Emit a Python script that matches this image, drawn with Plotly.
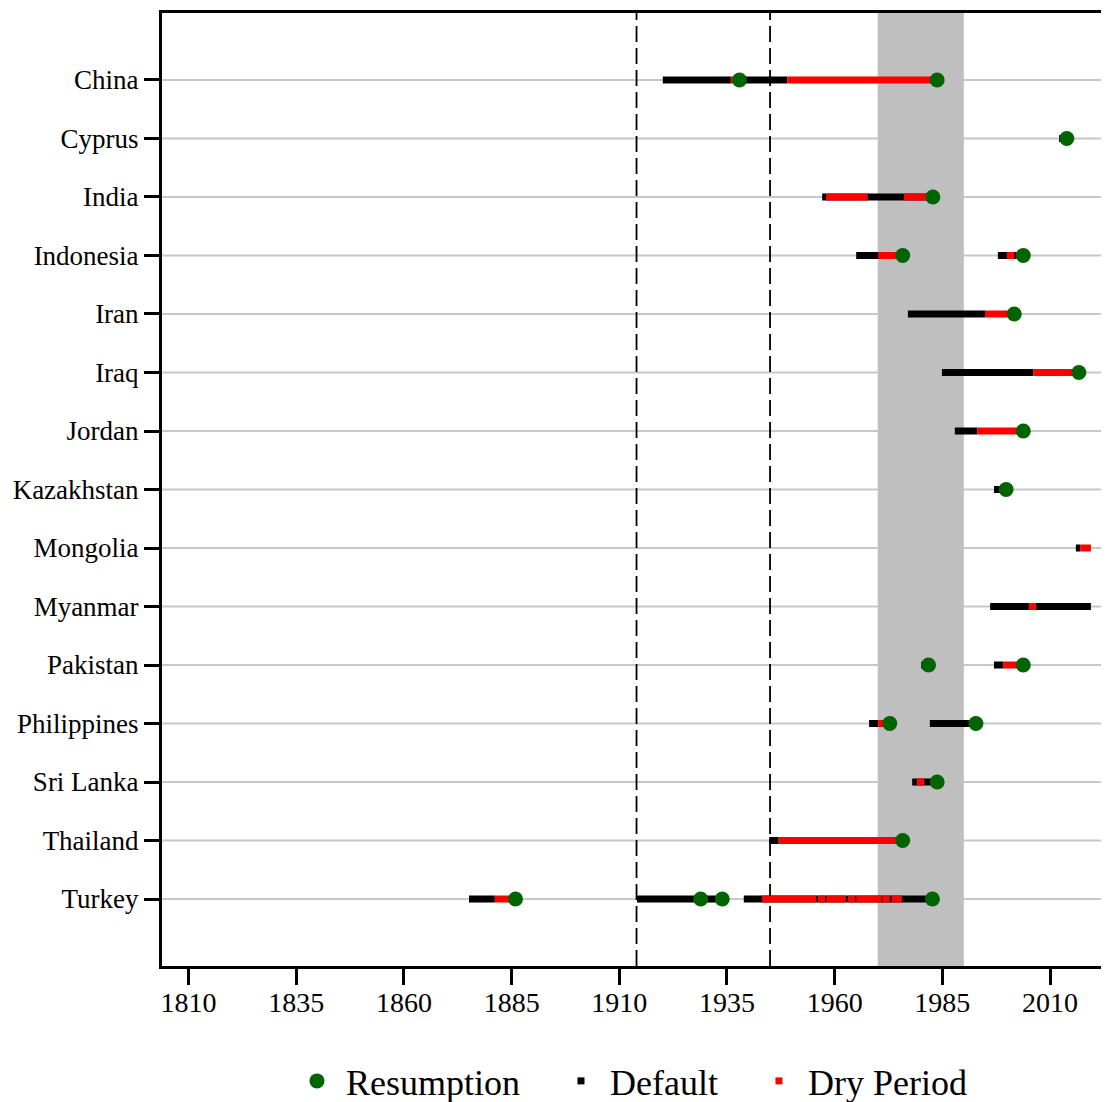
import plotly.graph_objects as go

countries = ["China", "Cyprus", "India", "Indonesia", "Iran", "Iraq", "Jordan",
             "Kazakhstan", "Mongolia", "Myanmar", "Pakistan", "Philippines",
             "Sri Lanka", "Thailand", "Turkey"]

default_country = ["China", "China", "Cyprus", "India", "Indonesia", "Indonesia",
                   "Iran", "Iraq", "Jordan", "Kazakhstan", "Mongolia", "Myanmar",
                   "Pakistan", "Pakistan", "Philippines", "Philippines", "Sri Lanka",
                   "Thailand", "Turkey", "Turkey", "Turkey", "Turkey"]
default_start = [1920.1, 1938.0, 2012.1, 1957.1, 1965.0, 1997.9,
                 1977.0, 1984.9, 1987.9, 1997.0, 2016.0, 1996.1,
                 1980.1, 1997.0, 1968.0, 1982.1, 1978.0,
                 1944.8, 1875.1, 1914.1, 1930.1, 1938.9]
default_end = [1935.9, 1949.0, 2013.7, 1982.5, 1975.6, 2003.7,
               1994.9, 2006.1, 1993.1, 1999.6, 2017.0, 2019.5,
               1981.6, 1999.1, 1970.1, 1992.6, 1983.6,
               1947.0, 1881.1, 1928.7, 1933.5, 1982.5]

dry_country = ["China", "China", "India", "India", "Indonesia", "Indonesia", "Indonesia",
               "Iran", "Iraq", "Jordan", "Mongolia", "Myanmar", "Pakistan",
               "Philippines", "Sri Lanka", "Thailand", "Turkey", "Turkey", "Turkey",
               "Turkey", "Turkey", "Turkey", "Turkey", "Turkey"]
dry_start = [1935.9, 1949.0, 1958.0, 1976.1, 1970.1, 2000.0, 2002.1,
             1994.9, 2006.1, 1993.1, 2017.0, 2005.1, 1999.1,
             1970.1, 1979.1, 1947.0, 1881.1, 1943.1, 1956.1,
             1958.1, 1963.1, 1965.0, 1971.1, 1973.2]
dry_end = [1937.6, 1983.7, 1967.7, 1982.5, 1974.8, 2001.7, 2003.7,
           2001.5, 2016.7, 2003.7, 2019.5, 2006.8, 2003.7,
           1972.6, 1980.8, 1975.5, 1885.6, 1955.7, 1957.8,
           1962.6, 1964.7, 1970.9, 1972.8, 1975.6]

resumption_country = ["China", "China", "Cyprus", "India", "Indonesia", "Indonesia",
                      "Iran", "Iraq", "Jordan", "Kazakhstan", "Pakistan", "Pakistan",
                      "Philippines", "Philippines", "Sri Lanka", "Thailand",
                      "Turkey", "Turkey", "Turkey", "Turkey"]
resumption_year = [1937.9, 1983.8, 2013.9, 1982.8, 1975.8, 2003.8,
                   2001.7, 2016.7, 2003.8, 1999.8, 1981.8, 2003.8,
                   1972.8, 1992.8, 1983.8, 1975.8,
                   1885.9, 1928.9, 1933.9, 1982.7]

event_years = [1914, 1945]
shaded_period = [1970, 1990]
x_ticks = [1810, 1835, 1860, 1885, 1910, 1935, 1960, 1985, 2010]

FONT = "Liberation Serif"
GREEN = "#006400"
RED = "#ff0000"
BLACK = "#000000"
BAR_W = 0.12
NB = "\u00a0"

fig = go.Figure()

# Resumption dots (drawn beneath the period bars)
fig.add_trace(go.Scatter(
    x=resumption_year, y=resumption_country, mode="markers",
    marker=dict(symbol="circle", size=15, color=GREEN),
    showlegend=False, hoverinfo="skip"))

fig.add_trace(go.Bar(
    orientation="h", y=default_country, base=default_start,
    x=[e - s for s, e in zip(default_start, default_end)],
    width=BAR_W, marker=dict(color=BLACK, line=dict(width=0)),
    showlegend=False))

fig.add_trace(go.Bar(
    orientation="h", y=dry_country, base=dry_start,
    x=[e - s for s, e in zip(dry_start, dry_end)],
    width=BAR_W, marker=dict(color=RED, line=dict(width=0)),
    showlegend=False))

# Legend entries
fig.add_trace(go.Scatter(x=[None], y=[None], mode="markers",
                         name=NB + "Resumption" + NB * 4,
                         marker=dict(symbol="circle", size=15, color=GREEN)))
fig.add_trace(go.Scatter(x=[None], y=[None], mode="markers",
                         name=NB + "Default" + NB * 4,
                         marker=dict(symbol="square", size=7, color=BLACK)))
fig.add_trace(go.Scatter(x=[None], y=[None], mode="markers",
                         name=NB + "Dry Period",
                         marker=dict(symbol="square", size=7, color=RED)))

# Horizontal grid lines at each country (below the shaded band)
for c in countries:
    fig.add_shape(type="line", xref="paper", x0=0, x1=1, yref="y", y0=c, y1=c,
                  line=dict(color="#c8c8c8", width=2), layer="below")

fig.add_shape(type="rect", xref="x", x0=shaded_period[0], x1=shaded_period[1],
              yref="paper", y0=0, y1=1, fillcolor="#bfbfbf", line_width=0,
              layer="below")
for yr in event_years:
    fig.add_shape(type="line", xref="x", x0=yr, x1=yr, yref="paper", y0=0, y1=1,
                  line=dict(color=BLACK, width=1.8, dash="16px,6px"), layer="below")

fig.update_layout(
    width=1101, height=1094,
    margin=dict(l=154, r=0, t=5, b=136),
    paper_bgcolor="white", plot_bgcolor="white",
    barmode="overlay",
    font=dict(family=FONT, size=27, color=BLACK),
    legend=dict(orientation="h", xref="container", yref="container",
                x=0.569, xanchor="center", y=0.0192, yanchor="middle",
                font=dict(family=FONT, size=36, color=BLACK),
                itemwidth=30, bgcolor="rgba(0,0,0,0)"),
    xaxis=dict(range=[1803.82, 2023.7], tickvals=x_ticks,
               ticks="outside", ticklen=16, tickwidth=2.5, tickcolor=BLACK,
               showline=True, linewidth=3, linecolor=BLACK, mirror=True,
               showgrid=False, zeroline=False, automargin=False,
               ticklabelstandoff=-7,
               tickfont=dict(family=FONT, size=28, color=BLACK)),
    yaxis=dict(type="category", categoryorder="array",
               categoryarray=countries[::-1], range=[-1.145, 15.145],
               ticks="outside", ticklen=15, tickwidth=3, tickcolor=BLACK,
               showline=True, linewidth=3, linecolor=BLACK, mirror=False,
               showgrid=False, zeroline=False, automargin=False,
               tickfont=dict(family=FONT, size=27, color=BLACK)),
)

fig.write_html("out.html")
